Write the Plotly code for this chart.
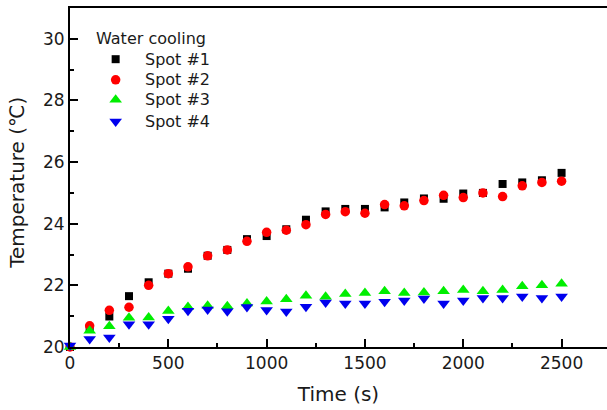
import plotly.graph_objects as go

time_s = [0, 100, 200, 300, 400, 500, 600, 700, 800, 900, 1000, 1100, 1200,
          1300, 1400, 1500, 1600, 1700, 1800, 1900, 2000, 2100, 2200, 2300, 2400, 2500]

spot1 = [20.0, 20.6, 20.99, 21.65, 22.1, 22.38, 22.54, 22.96, 23.15, 23.5, 23.6, 23.82, 24.13,
         24.4, 24.48, 24.48, 24.53, 24.69, 24.82, 24.81, 24.98, 25.0, 25.29, 25.34, 25.41, 25.65]
spot2 = [20.0, 20.69, 21.19, 21.29, 22.0, 22.38, 22.6, 22.96, 23.15, 23.43, 23.72, 23.79, 23.97,
         24.3, 24.39, 24.34, 24.62, 24.58, 24.75, 24.92, 24.85, 25.0, 24.88, 25.23, 25.34, 25.38]
spot3 = [20.0, 20.53, 20.67, 20.95, 20.96, 21.17, 21.3, 21.34, 21.32, 21.41, 21.48, 21.55, 21.66,
         21.63, 21.72, 21.75, 21.81, 21.75, 21.77, 21.81, 21.85, 21.81, 21.85, 21.97, 22.0, 22.05]
spot4 = [20.05, 20.26, 20.31, 20.74, 20.74, 20.92, 21.18, 21.22, 21.16, 21.3, 21.2, 21.15, 21.31,
         21.44, 21.41, 21.41, 21.47, 21.51, 21.57, 21.41, 21.51, 21.59, 21.59, 21.64, 21.59, 21.64]

series_names = ["Spot #1", "Spot #2", "Spot #3", "Spot #4"]
legend_title = "Water cooling"

x_ticks = [0, 500, 1000, 1500, 2000, 2500]
x_minor = [250, 750, 1250, 1750, 2250]
y_ticks = [20, 22, 24, 26, 28, 30]
y_minor = [21, 23, 25, 27, 29, 31]

FONT = "DejaVu Sans, Arial, sans-serif"
TXT = "#1a1a1a"

styles = [
    dict(symbol="square", size=8, color="#000000"),
    dict(symbol="circle", size=9.5, color="#ff0000"),
    dict(symbol="triangle-up", size=11, color="#00ee00"),
    dict(symbol="triangle-down", size=11, color="#0000ee"),
]

fig = go.Figure()
for name, ys, st in zip(series_names, [spot1, spot2, spot3, spot4], styles):
    fig.add_trace(go.Scatter(
        x=time_s, y=ys, mode="markers", name=name, showlegend=False,
        marker=dict(symbol=st["symbol"], size=st["size"], color=st["color"],
                    line=dict(width=0)),
        cliponaxis=False,
    ))

# Manual legend (markers on an invisible overlay axis spanning the plot area, text as annotations)
leg_marker_x = 0.085
leg_text_x = 0.1365
leg_title_x = 0.045
leg_title_y = 0.909
leg_rows_y = [0.849, 0.788, 0.729, 0.665]

for name, st, ly in zip(series_names, styles, leg_rows_y):
    fig.add_trace(go.Scatter(
        x=[leg_marker_x], y=[ly], mode="markers", showlegend=False,
        xaxis="x2", yaxis="y2", hoverinfo="skip",
        marker=dict(symbol=st["symbol"], size=st["size"], color=st["color"], line=dict(width=0)),
    ))

annotations = [dict(text=legend_title, x=leg_title_x, y=leg_title_y, xref="paper", yref="paper",
                    xanchor="left", yanchor="middle", showarrow=False,
                    font=dict(size=16, family=FONT, color=TXT))]
for name, ly in zip(series_names, leg_rows_y):
    annotations.append(dict(text=name, x=leg_text_x, y=ly, xref="paper", yref="paper",
                            xanchor="left", yanchor="middle", showarrow=False,
                            font=dict(size=16, family=FONT, color=TXT)))
# y-axis title
annotations.append(dict(text="Temperature (℃)", x=-0.099, y=0.484, xref="paper", yref="paper",
                        xanchor="center", yanchor="middle", textangle=-90, showarrow=False,
                        font=dict(size=20, family=FONT, color=TXT)))

fig.update_layout(
    width=607, height=410,
    margin=dict(l=70, r=0, t=8, b=63, autoexpand=False),
    paper_bgcolor="white", plot_bgcolor="white",
    font=dict(family=FONT, color=TXT),
    showlegend=False,
    annotations=annotations,
    xaxis=dict(
        range=[0, 2731], showgrid=False, zeroline=False, automargin=False,
        showline=True, linecolor="black", linewidth=2, mirror=True,
        ticks="inside", ticklen=8, tickwidth=1.5, tickcolor="black",
        tickvals=x_ticks, ticktext=[str(v) for v in x_ticks],
        tickfont=dict(size=17, family=FONT, color=TXT),
        minor=dict(ticks="inside", ticklen=4, tickwidth=1.5, tickcolor="black",
                   tickvals=x_minor, showgrid=False),
        title=dict(text="Time (s)", font=dict(size=20, family=FONT, color=TXT), standoff=15),
    ),
    yaxis=dict(
        range=[20, 31], showgrid=False, zeroline=False, automargin=False,
        showline=True, linecolor="black", linewidth=2,
        ticks="inside", ticklen=8, tickwidth=1.5, tickcolor="black",
        tickvals=y_ticks, ticktext=[str(v) for v in y_ticks],
        tickfont=dict(size=17, family=FONT, color=TXT),
        minor=dict(ticks="inside", ticklen=4, tickwidth=1.5, tickcolor="black",
                   tickvals=y_minor, showgrid=False),
    ),
    xaxis2=dict(overlaying="x", range=[0, 1], visible=False, fixedrange=True),
    yaxis2=dict(overlaying="y", range=[0, 1], visible=False, fixedrange=True),
)

fig.write_html("out.html", config={"displayModeBar": False},
               post_script="document.body.style.margin='0px';")
